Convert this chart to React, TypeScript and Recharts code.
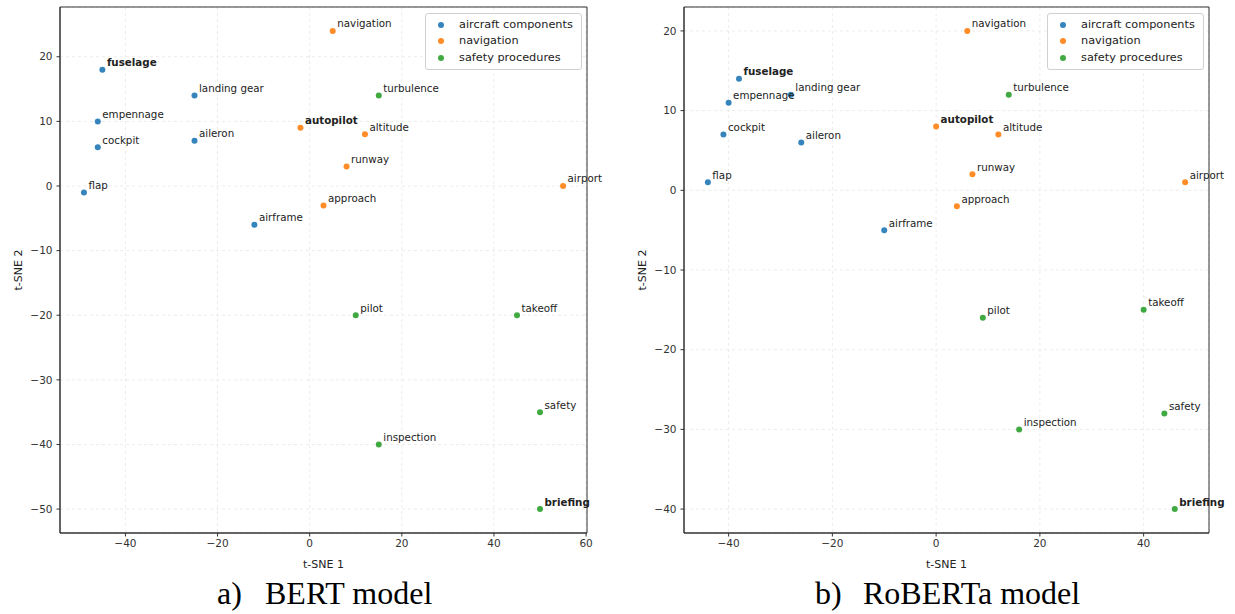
import {
  ScatterChart,
  Scatter,
  XAxis,
  YAxis,
  CartesianGrid,
  ReferenceArea,
  Legend,
  Label,
} from "recharts"

type Pt = { word: string; x: number; y: number }

const categories = ["aircraft components", "navigation", "safety procedures"]
const colors = ["#1f77b4", "#ff7f0e", "#2ca02c"]
const boldWords = ["fuselage", "autopilot", "briefing"]

// BERT (a)
const bertComponents: Pt[] = [
  { word: "fuselage", x: -45, y: 18 },
  { word: "landing gear", x: -25, y: 14 },
  { word: "empennage", x: -46, y: 10 },
  { word: "cockpit", x: -46, y: 6 },
  { word: "aileron", x: -25, y: 7 },
  { word: "flap", x: -49, y: -1 },
  { word: "airframe", x: -12, y: -6 },
]
const bertNavigation: Pt[] = [
  { word: "navigation", x: 5, y: 24 },
  { word: "autopilot", x: -2, y: 9 },
  { word: "altitude", x: 12, y: 8 },
  { word: "runway", x: 8, y: 3 },
  { word: "approach", x: 3, y: -3 },
  { word: "airport", x: 55, y: 0 },
]
const bertSafety: Pt[] = [
  { word: "turbulence", x: 15, y: 14 },
  { word: "pilot", x: 10, y: -20 },
  { word: "takeoff", x: 45, y: -20 },
  { word: "safety", x: 50, y: -35 },
  { word: "inspection", x: 15, y: -40 },
  { word: "briefing", x: 50, y: -50 },
]
const bertXTicks = [-40, -20, 0, 20, 40, 60]
const bertYTicks = [-50, -40, -30, -20, -10, 0, 10, 20]

// RoBERTa (b)
const robertaComponents: Pt[] = [
  { word: "fuselage", x: -38, y: 14 },
  { word: "landing gear", x: -28, y: 12 },
  { word: "empennage", x: -40, y: 11 },
  { word: "cockpit", x: -41, y: 7 },
  { word: "aileron", x: -26, y: 6 },
  { word: "flap", x: -44, y: 1 },
  { word: "airframe", x: -10, y: -5 },
]
const robertaNavigation: Pt[] = [
  { word: "navigation", x: 6, y: 20 },
  { word: "autopilot", x: 0, y: 8 },
  { word: "altitude", x: 12, y: 7 },
  { word: "runway", x: 7, y: 2 },
  { word: "approach", x: 4, y: -2 },
  { word: "airport", x: 48, y: 1 },
]
const robertaSafety: Pt[] = [
  { word: "turbulence", x: 14, y: 12 },
  { word: "pilot", x: 9, y: -16 },
  { word: "takeoff", x: 40, y: -15 },
  { word: "safety", x: 44, y: -28 },
  { word: "inspection", x: 16, y: -30 },
  { word: "briefing", x: 46, y: -40 },
]
const robertaXTicks = [-40, -20, 0, 20, 40]
const robertaYTicks = [-40, -30, -20, -10, 0, 10, 20]

const FONT = "'DejaVu Sans', sans-serif"
const INK = "#333"

// margen estilo matplotlib: 5% a cada lado del rango de datos
function padded(values: number[]): [number, number] {
  const lo = Math.min(...values)
  const hi = Math.max(...values)
  const m = (hi - lo) * 0.05
  return [lo - m, hi + m]
}

const fmtTick = (v: number) => (v < 0 ? `\u2212${Math.abs(v)}` : `${v}`)

// punto + etiqueta de la palabra
function WordDot(props: any) {
  const { cx, cy, fill, payload } = props
  if (cx == null || cy == null) return null
  const bold = boldWords.includes(payload.word)
  return (
    <g>
      <circle cx={cx} cy={cy} r={3} fill={fill} fillOpacity={0.9} />
      <text
        x={cx + 4.5}
        y={cy - 3.5}
        fontSize={10.3}
        fontFamily={FONT}
        fontWeight={bold ? "bold" : "normal"}
        fill="#222"
      >
        {payload.word}
      </text>
    </g>
  )
}

function LegendBox({ payload }: any) {
  const items = payload?.length
    ? payload.map((p: any) => ({ name: p.value, color: p.color }))
    : categories.map((c, i) => ({ name: c, color: colors[i] }))
  return (
    <div
      style={{
        border: "1px solid #d0d0d0",
        borderRadius: 3,
        background: "rgba(255,255,255,0.85)",
        padding: "3px 8px 3px 12px",
        fontFamily: FONT,
        fontSize: 11.3,
        color: "#222",
        lineHeight: "16.3px",
        whiteSpace: "nowrap",
      }}
    >
      {items.map((it: any) => (
        <div key={it.name} style={{ display: "flex", alignItems: "center" }}>
          <span
            style={{
              display: "inline-block",
              width: 6,
              height: 6,
              borderRadius: 3,
              background: it.color,
              opacity: 0.9,
              marginRight: 15,
            }}
          />
          {it.name}
        </div>
      ))}
    </div>
  )
}

interface PanelProps {
  left: number
  yAxisWidth: number
  rightMargin: number
  series: Pt[][]
  xTicks: number[]
  yTicks: number[]
  legendLeft: number
  yLabelOffset: number
}

function Panel({ left, yAxisWidth, rightMargin, series, xTicks, yTicks, legendLeft, yLabelOffset }: PanelProps) {
  const all = series.flat()
  const [xMin, xMax] = padded(all.map((p) => p.x))
  const [yMin, yMax] = padded(all.map((p) => p.y))
  return (
    <div style={{ position: "absolute", left, top: 0 }}>
      <ScatterChart
        width={615}
        height={575}
        margin={{ top: 7, right: rightMargin, bottom: 0, left: 0 }}
      >
        <CartesianGrid stroke="#ececec" strokeDasharray="3 3" />
        <XAxis
          type="number"
          dataKey="x"
          domain={[xMin, xMax]}
          ticks={xTicks}
          interval={0}
          tickFormatter={fmtTick}
          tick={{ fontSize: 10.5, fill: INK, fontFamily: FONT }}
          tickSize={3.5}
          tickMargin={3}
          tickLine={{ stroke: INK }}
          axisLine={{ stroke: INK }}
          height={42}
        >
          <Label
            value="t-SNE 1"
            position="insideBottom"
            offset={7}
            style={{ fontSize: 11, fill: "#222", fontFamily: FONT }}
          />
        </XAxis>
        <YAxis
          type="number"
          dataKey="y"
          domain={[yMin, yMax]}
          ticks={yTicks}
          interval={0}
          tickFormatter={fmtTick}
          tick={{ fontSize: 10.5, fill: INK, fontFamily: FONT }}
          tickSize={3.5}
          tickMargin={4}
          tickLine={{ stroke: INK }}
          axisLine={{ stroke: INK }}
          width={yAxisWidth}
        >
          <Label
            value="t-SNE 2"
            angle={-90}
            position="insideLeft"
            offset={yLabelOffset}
            style={{ fontSize: 11, fill: "#222", fontFamily: FONT, textAnchor: "middle" }}
          />
        </YAxis>
        <ReferenceArea
          x1={xMin}
          x2={xMax}
          y1={yMin}
          y2={yMax}
          fill="none"
          stroke={INK}
          strokeWidth={1}
          ifOverflow="visible"
        />
        {series.map((data, i) => (
          <Scatter
            key={categories[i]}
            name={categories[i]}
            data={data}
            fill={colors[i]}
            shape={<WordDot />}
            isAnimationActive={false}
          />
        ))}
        <Legend
          layout="horizontal"
          verticalAlign="middle"
          align="center"
          content={<LegendBox />}
          wrapperStyle={{ position: "absolute", left: legendLeft, top: 13, width: "auto" }}
        />
      </ScatterChart>
    </div>
  )
}

const captionStyle: React.CSSProperties = {
  position: "absolute",
  top: 577,
  fontFamily: "'Liberation Serif', 'Times New Roman', serif",
  fontSize: 32,
  lineHeight: "32px",
  color: "#000",
  whiteSpace: "nowrap",
}

export default function App() {
  return (
    <div style={{ position: "absolute", left: 0, top: 0, width: 1235, height: 614, background: "#fff" }}>
      <Panel
        left={0}
        yAxisWidth={60}
        rightMargin={28}
        series={[bertComponents, bertNavigation, bertSafety]}
        xTicks={bertXTicks}
        yTicks={bertYTicks}
        legendLeft={425}
        yLabelOffset={18}
      />
      <Panel
        left={620}
        yAxisWidth={64}
        rightMargin={26}
        series={[robertaComponents, robertaNavigation, robertaSafety]}
        xTicks={robertaXTicks}
        yTicks={robertaYTicks}
        legendLeft={427}
        yLabelOffset={22}
      />
      <div style={{ ...captionStyle, left: 217 }}>a)</div>
      <div style={{ ...captionStyle, left: 265 }}>BERT model</div>
      <div style={{ ...captionStyle, left: 815 }}>b)</div>
      <div style={{ ...captionStyle, left: 863 }}>RoBERTa model</div>
    </div>
  )
}
